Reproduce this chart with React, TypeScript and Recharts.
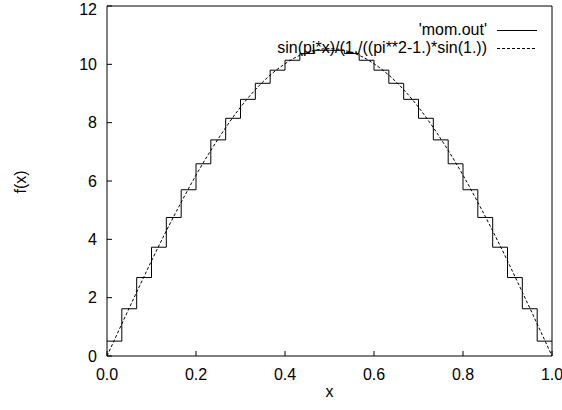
import React from 'react';
import { LineChart, Line, XAxis, YAxis, Legend, Label } from 'recharts';

// x positions of the samples (1/30 spacing)
const xs = [
  0, 0.0333, 0.0667, 0.1, 0.1333, 0.1667, 0.2, 0.2333, 0.2667, 0.3, 0.3333,
  0.3667, 0.4, 0.4333, 0.4667, 0.5, 0.5333, 0.5667, 0.6, 0.6333, 0.6667, 0.7,
  0.7333, 0.7667, 0.8, 0.8333, 0.8667, 0.9, 0.9333, 0.9667, 1,
];

// 'mom.out' step heights, one per interval (last one repeated to close the step)
const momOut = [
  0.51, 1.62, 2.69, 3.73, 4.75, 5.7, 6.59, 7.41, 8.15, 8.8, 9.35, 9.8, 10.14,
  10.37, 10.48, 10.48, 10.37, 10.14, 9.8, 9.35, 8.8, 8.15, 7.41, 6.59, 5.7,
  4.75, 3.73, 2.69, 1.62, 0.51, 0.51,
];

// dashed analytic curve
const exact = [
  0, 1.1, 2.19, 3.26, 4.29, 5.27, 6.2, 7.05, 7.83, 8.53, 9.13, 9.63, 10.02,
  10.31, 10.48, 10.54, 10.48, 10.31, 10.02, 9.63, 9.13, 8.53, 7.83, 7.05, 6.2,
  5.27, 4.29, 3.26, 2.19, 1.1, 0,
];

const xTicks = [0, 0.2, 0.4, 0.6, 0.8, 1];
const yTicks = [0, 2, 4, 6, 8, 10, 12];

const seriesNames = ["'mom.out'", 'sin(pi*x)/(1./((pi**2-1.)*sin(1.))'];

const stepData = xs.map((x, i) => ({ x, y: momOut[i] }));
const curveData = xs.map((x, i) => ({ x, y: exact[i] }));

const FONT = '"Liberation Sans", Arial, Helvetica, sans-serif';
const tickStyle = { fill: '#000', fontSize: 16 };

function LegendBox({ payload }: any) {
  return (
    <div style={{ fontFamily: FONT, fontSize: 16, color: '#000' }}>
      {(payload || []).map((entry: any, i: number) => (
        <div
          key={`leg-${i}`}
          style={{
            display: 'flex',
            justifyContent: 'flex-end',
            alignItems: 'center',
            height: 18,
            lineHeight: '18px',
            whiteSpace: 'nowrap',
          }}
        >
          <span>{entry.value}</span>
          <svg width={50} height={18} style={{ display: 'block' }}>
            <line
              x1={10}
              x2={50}
              y1={9.5}
              y2={9.5}
              stroke="#000"
              strokeWidth={1}
              strokeDasharray={i === 1 ? '3 2' : undefined}
            />
          </svg>
        </div>
      ))}
    </div>
  );
}

export default function App() {
  return (
    <div
      style={{
        position: 'absolute',
        left: 0,
        top: 0,
        width: 562,
        height: 410,
        background: '#fff',
        fontFamily: FONT,
      }}
    >
      <LineChart
        width={562}
        height={410}
        margin={{ top: 5, right: 9, bottom: 53, left: 106 }}
      >
        <XAxis
          xAxisId="b"
          dataKey="x"
          type="number"
          domain={[0, 1]}
          ticks={xTicks}
          tickFormatter={(v: number) => v.toFixed(1)}
          allowDataOverflow
          height={1}
          tickSize={-5}
          tickMargin={18}
          tick={tickStyle}
          stroke="#000"
        >
          <Label
            content={({ viewBox }: any) => (
              <text
                x={viewBox.x + viewBox.width / 2}
                y={397}
                textAnchor="middle"
                fontSize={16}
                fill="#000"
              >
                x
              </text>
            )}
          />
        </XAxis>
        <XAxis
          xAxisId="t"
          orientation="top"
          dataKey="x"
          type="number"
          domain={[0, 1]}
          ticks={xTicks}
          allowDataOverflow
          height={1}
          tickSize={-5}
          tick={false}
          stroke="#000"
        />
        <YAxis
          yAxisId="l"
          type="number"
          domain={[0, 12]}
          ticks={yTicks}
          allowDataOverflow
          width={1}
          tickSize={-5}
          tickMargin={15}
          tick={tickStyle}
          stroke="#000"
        >
          <Label
            content={({ viewBox }: any) => (
              <text
                x={20}
                y={182}
                transform="rotate(-90, 20, 182)"
                textAnchor="middle"
                dominantBaseline="central"
                fontSize={16}
                fill="#000"
              >
                f(x)
              </text>
            )}
          />
        </YAxis>
        <YAxis
          yAxisId="r"
          orientation="right"
          type="number"
          domain={[0, 12]}
          ticks={yTicks}
          allowDataOverflow
          width={1}
          tickSize={-5}
          tick={false}
          stroke="#000"
        />
        <Legend
          layout="vertical"
          align="center"
          verticalAlign="middle"
          content={<LegendBox />}
          wrapperStyle={{ top: 21, right: 25, left: 'auto', bottom: 'auto', width: 'auto' }}
        />
        <Line
          xAxisId="b"
          yAxisId="l"
          data={stepData}
          dataKey="y"
          name={seriesNames[0]}
          type="stepAfter"
          stroke="#000"
          strokeWidth={1}
          dot={false}
          isAnimationActive={false}
        />
        <Line
          xAxisId="b"
          yAxisId="l"
          data={curveData}
          dataKey="y"
          name={seriesNames[1]}
          type="natural"
          stroke="#000"
          strokeWidth={1}
          strokeDasharray="3 2"
          dot={false}
          isAnimationActive={false}
        />
      </LineChart>
    </div>
  );
}
